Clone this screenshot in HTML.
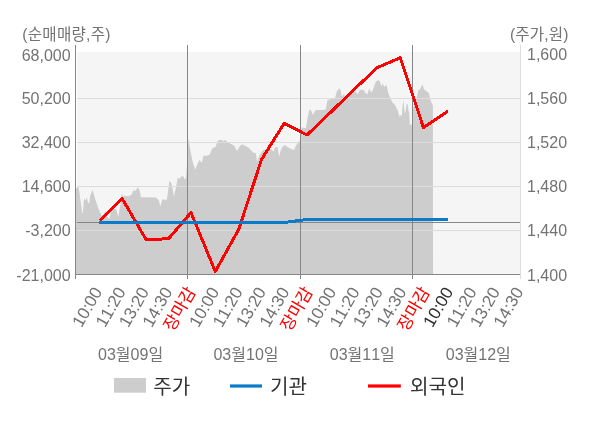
<!DOCTYPE html>
<html lang="ko"><head><meta charset="utf-8"><title>chart</title>
<style>
html,body{margin:0;padding:0;background:#fff;}
body{width:600px;height:428px;overflow:hidden;}
svg{display:block;will-change:transform;font-kerning:none;font-family:'Liberation Sans','Noto Sans CJK KR',sans-serif;}
.ax{font-size:16px;fill:#737373;}
.lg{font-size:20.1px;fill:#333;}
.rd{fill:#ff0000;}
.dk{fill:#2e2e2e;}
</style></head><body>
<svg width="600" height="428" viewBox="0 0 600 428">
<rect x="0" y="0" width="600" height="428" fill="#ffffff"/>
<rect x="77" y="52" width="443" height="222" fill="#f5f5f5"/>
<polygon points="76.0,189.0 77.0,187.5 78.2,186.5 79.4,192.0 80.6,201.0 82.2,213.0 82.9,213.0 84.0,198.2 85.5,200.6 87.0,197.2 87.6,201.5 89.0,204.0 90.2,196.0 92.5,189.8 95.0,198.5 98.0,207.3 101.3,215.5 103.1,215.0 105.3,211.0 107.6,217.4 109.5,218.7 112.0,205.5 113.9,208.6 116.4,210.0 118.3,216.8 120.2,206.0 122.0,193.5 123.3,196.6 125.2,195.4 127.8,196.6 131.5,194.7 133.4,190.3 135.3,191.0 137.9,187.2 139.8,191.0 141.0,197.3 156.0,197.5 158.9,200.5 160.3,206.5 162.3,199.5 165.8,199.5 166.8,200.5 169.4,180.7 171.4,183.6 172.8,189.6 173.8,196.6 175.8,188.6 177.7,177.7 179.7,178.7 181.7,176.1 183.7,176.7 184.7,179.7 186.1,177.7 187.3,160.0 188.3,138.0 190.7,151.9 192.7,161.8 195.2,169.7 197.6,163.8 199.6,159.8 201.6,162.8 203.6,155.8 206.6,155.8 209.5,154.8 212.5,147.9 215.5,146.9 217.5,140.9 220.5,139.5 223.4,140.9 225.4,140.0 227.4,141.9 230.0,143.3 234.2,145.8 236.7,150.8 238.3,149.2 240.0,145.8 242.5,144.2 245.0,145.8 248.3,147.5 250.8,150.0 253.3,152.5 255.8,153.3 257.0,161.7 258.3,158.3 260.0,154.2 263.3,150.0 268.3,149.2 271.7,149.2 273.3,151.7 275.0,147.5 277.5,147.0 279.2,156.7 280.8,150.0 282.5,146.7 285.0,145.0 288.3,147.5 291.7,149.2 294.2,150.0 295.8,145.8 298.3,142.5 300.3,140.0 301.7,127.5 305.8,128.3 307.5,118.3 309.2,110.0 310.8,110.0 313.0,115.0 315.0,110.8 316.7,110.0 323.3,110.0 325.8,109.2 327.5,100.0 330.8,99.2 335.0,98.3 336.7,91.7 339.2,88.0 340.8,90.8 341.7,96.7 343.7,94.2 345.8,96.7 350.0,95.0 355.0,90.8 357.5,94.2 360.0,89.7 363.3,89.7 365.8,93.3 367.5,94.2 369.2,88.3 370.8,92.5 372.5,90.8 375.8,81.7 378.3,80.0 380.0,81.7 381.3,86.7 382.5,83.3 384.2,86.7 386.7,85.0 388.3,93.3 390.0,97.5 392.5,102.5 395.0,105.0 397.5,110.0 399.6,117.0 400.8,114.7 401.9,115.9 402.5,106.5 403.5,100.0 404.0,105.4 404.6,113.6 405.8,110.0 406.6,104.2 407.8,104.2 408.4,110.0 409.3,113.5 409.8,124.8 412.0,124.8 412.5,108.0 413.0,108.0 417.0,97.0 418.3,90.0 420.0,89.6 422.4,84.3 424.1,89.6 425.9,90.8 428.8,93.0 430.0,98.4 431.7,103.0 432.9,105.4 433.0,274.0 76.0,274.0" fill="#cdcdcd"/>
<rect x="77" y="98" width="443" height="1" fill="#dddddd"/>
<rect x="77" y="142" width="443" height="1" fill="#dddddd"/>
<rect x="77" y="186" width="443" height="1" fill="#dddddd"/>
<rect x="77" y="230" width="443" height="1" fill="#dddddd"/>
<rect x="77" y="222" width="443" height="1" fill="#868686"/>
<rect x="187" y="45" width="1" height="234" fill="#868686"/>
<rect x="300" y="45" width="1" height="234" fill="#868686"/>
<rect x="412" y="45" width="1" height="234" fill="#868686"/>
<rect x="75" y="45" width="1" height="234" fill="#868686"/>
<rect x="520" y="45" width="1" height="234" fill="#dddddd"/>
<rect x="75" y="274" width="445" height="1" fill="#868686"/>
<polyline points="99.6,220.6 122.2,198.6 146.0,239.5 168.5,238.8 191.0,212.5 215.3,271.5 238.7,229.5 261.5,159.5 284.2,123.3 307.0,135.0 330.4,112.5 353.6,90.0 377.3,67.5 400.3,57.8 423.5,127.7 448.0,111.0" fill="none" stroke="#ff0000" stroke-width="3" stroke-linejoin="round" shape-rendering="crispEdges"/>
<polyline points="99.0,222.3 285.5,222.3 307.0,219.5 447.5,219.5" fill="none" stroke="#087cca" stroke-width="3" shape-rendering="crispEdges"/>
<text class="ax" x="70.6" y="61" text-anchor="end">68,000</text>
<text class="ax" x="70.6" y="103.9" text-anchor="end">50,200</text>
<text class="ax" x="70.6" y="147.9" text-anchor="end">32,400</text>
<text class="ax" x="70.6" y="191.9" text-anchor="end">14,600</text>
<text class="ax" x="70.6" y="235.9" text-anchor="end">-3,200</text>
<text class="ax" x="70.6" y="281" text-anchor="end">-21,000</text>
<text class="ax" x="527" y="59.9">1,600</text>
<text class="ax" x="527" y="103.9">1,560</text>
<text class="ax" x="527" y="147.9">1,520</text>
<text class="ax" x="527" y="191.9">1,480</text>
<text class="ax" x="527" y="235.9">1,440</text>
<text class="ax" x="527" y="281">1,400</text>
<text class="ax" style="font-size:15.6px;letter-spacing:0.25px" x="22.3" y="40">(순매매량,주)</text>
<text class="ax" style="font-size:15.6px;letter-spacing:0.15px" x="510" y="40">(주가,원)</text>
<text class="ax" style="font-size:17px" transform="translate(102.8,291.5) rotate(-60)" text-anchor="end">10:00</text>
<text class="ax" style="font-size:17px" transform="translate(126.2,291.5) rotate(-60)" text-anchor="end">11:20</text>
<text class="ax" style="font-size:17px" transform="translate(149.6,291.5) rotate(-60)" text-anchor="end">13:20</text>
<text class="ax" style="font-size:17px" transform="translate(173.0,291.5) rotate(-60)" text-anchor="end">14:30</text>
<text class="ax rd" style="font-size:17px" transform="translate(196.4,291.5) rotate(-60)" text-anchor="end">장마감</text>
<text class="ax" style="font-size:17px" transform="translate(219.8,291.5) rotate(-60)" text-anchor="end">10:00</text>
<text class="ax" style="font-size:17px" transform="translate(243.2,291.5) rotate(-60)" text-anchor="end">11:20</text>
<text class="ax" style="font-size:17px" transform="translate(266.6,291.5) rotate(-60)" text-anchor="end">13:20</text>
<text class="ax" style="font-size:17px" transform="translate(290.0,291.5) rotate(-60)" text-anchor="end">14:30</text>
<text class="ax rd" style="font-size:17px" transform="translate(313.4,291.5) rotate(-60)" text-anchor="end">장마감</text>
<text class="ax" style="font-size:17px" transform="translate(336.8,291.5) rotate(-60)" text-anchor="end">10:00</text>
<text class="ax" style="font-size:17px" transform="translate(360.2,291.5) rotate(-60)" text-anchor="end">11:20</text>
<text class="ax" style="font-size:17px" transform="translate(383.6,291.5) rotate(-60)" text-anchor="end">13:20</text>
<text class="ax" style="font-size:17px" transform="translate(407.0,291.5) rotate(-60)" text-anchor="end">14:30</text>
<text class="ax rd" style="font-size:17px" transform="translate(430.4,291.5) rotate(-60)" text-anchor="end">장마감</text>
<text class="ax dk" style="font-size:17px" transform="translate(453.8,291.5) rotate(-60)" text-anchor="end">10:00</text>
<text class="ax" style="font-size:17px" transform="translate(477.2,291.5) rotate(-60)" text-anchor="end">11:20</text>
<text class="ax" style="font-size:17px" transform="translate(500.6,291.5) rotate(-60)" text-anchor="end">13:20</text>
<text class="ax" style="font-size:17px" transform="translate(524.0,291.5) rotate(-60)" text-anchor="end">14:30</text>
<text class="ax" x="130.6" y="359.8" text-anchor="middle">03월09일</text>
<text class="ax" x="246.0" y="359.8" text-anchor="middle">03월10일</text>
<text class="ax" x="362.3" y="359.8" text-anchor="middle">03월11일</text>
<text class="ax" x="478.3" y="359.8" text-anchor="middle">03월12일</text>
<rect x="114" y="378" width="32" height="14.7" fill="#cdcdcd"/>
<text class="lg" x="153.2" y="393.9">주가</text>
<rect x="230" y="384.4" width="32" height="3.2" fill="#087cca"/>
<text class="lg" x="270" y="393.9">기관</text>
<rect x="368" y="384.4" width="32.8" height="3.2" fill="#ff0000"/>
<text class="lg" x="410" y="393.9">외국인</text>
</svg></body></html>
